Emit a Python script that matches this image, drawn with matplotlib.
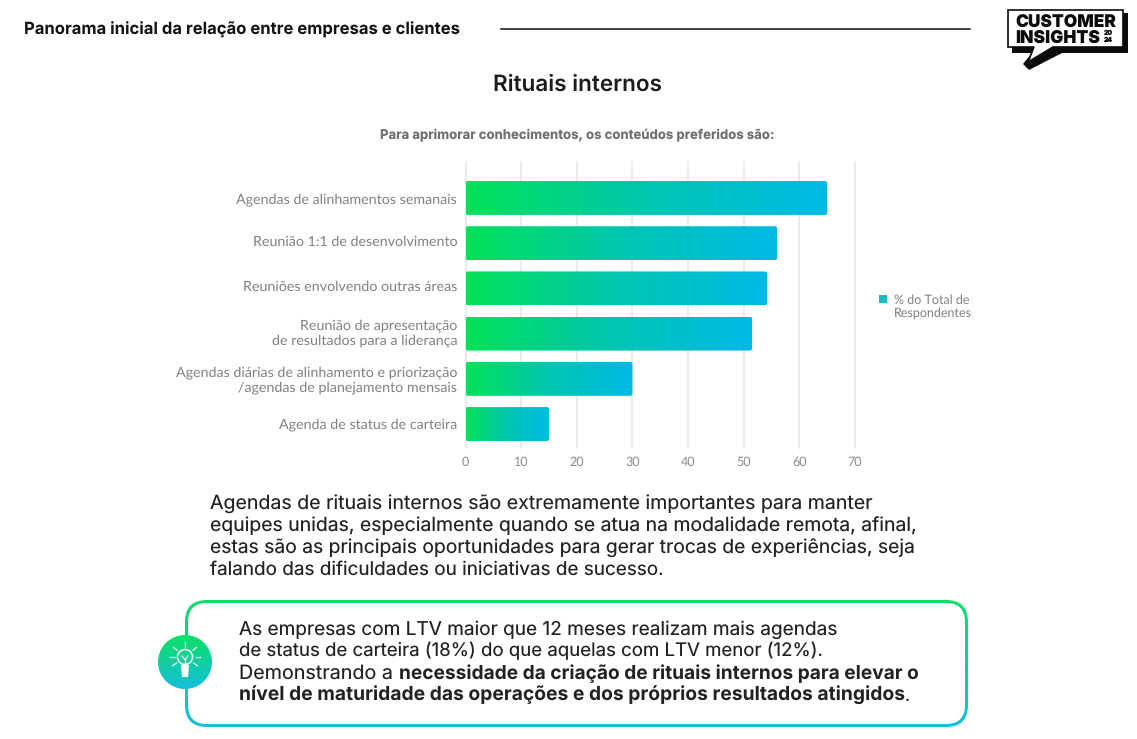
import numpy as np
import matplotlib
matplotlib.use("Agg")
import matplotlib.pyplot as plt
from matplotlib.colors import LinearSegmentedColormap
from matplotlib.patches import FancyBboxPatch, Circle, Polygon, Rectangle
from matplotlib.lines import Line2D
from matplotlib.transforms import ScaledTranslation

categories = [
    "Agendas de alinhamentos semanais",
    "Reunião 1:1 de desenvolvimento",
    "Reuniões envolvendo outras áreas",
    "Reunião de apresentação\nde resultados para a liderança",
    "Agendas diárias de alinhamento e priorização\n/agendas de planejamento mensais",
    "Agenda de status de carteira",
]
values = [65, 56, 54.2, 51.5, 30, 15]
xticks = [0, 10, 20, 30, 40, 50, 60, 70]
legend_lines = ["% do Total de", "Respondentes"]

W, H = 1137, 739
BODY = "Inter"
LABEL = "Lato"
plt.rcParams["text.hinting"] = "no_hinting"
fig = plt.figure(figsize=(W / 100, H / 100), dpi=100, facecolor="white")
renderer = fig.canvas.get_renderer()

bar_cmap = LinearSegmentedColormap.from_list("g", ["#03e158", "#00c6b0", "#00b9e6"])
v_cmap = LinearSegmentedColormap.from_list("v", ["#08e064", "#12cfa0", "#14bfdc"])

# ---------- chart ----------
L, R, T, B = 465.5, 855, 162, 448
ax = fig.add_axes([L / W, 1 - B / H, (R - L) / W, (B - T) / H])
y = np.arange(len(values))
bars = ax.barh(y, values, height=0.75, color="none", zorder=3)
ax.set_xlim(0, 70)
ylim = (5.53, -0.796)
ax.set_ylim(*ylim)
aspect = ((R - L) / 70) / ((B - T) / (ylim[0] - ylim[1]))
for b in bars:
    x0, y0, w, h = b.get_x(), b.get_y(), b.get_width(), b.get_height()
    img = ax.imshow(np.linspace(0, 1, 200).reshape(1, -1), cmap=bar_cmap, aspect="auto",
                    extent=(x0, x0 + w, y0 + h, y0), zorder=3)
    clip = FancyBboxPatch((x0, y0), w, h, boxstyle="round,pad=0,rounding_size=0.4",
                          mutation_aspect=aspect, transform=ax.transData,
                          facecolor="none", edgecolor="none")
    ax.add_patch(clip)
    img.set_clip_path(clip)
ax.set_xlim(0, 70)
ax.set_ylim(*ylim)
ax.set_xticks(xticks)
ax.set_yticks(y)
ax.set_yticklabels(categories, fontfamily=LABEL, fontsize=10.3, color="#808080", linespacing=1.2)
ax.set_xticklabels([str(v) for v in xticks], fontfamily=LABEL, fontsize=9, color="#8a8a8a")
ax.tick_params(axis="both", length=0)
ax.tick_params(axis="y", pad=6)
ax.tick_params(axis="x", pad=6)
nudges = [0, 2, 3, 3, 1.5, 1]
for t, dy in zip(ax.get_yticklabels(), nudges):
    t.set_multialignment("right")
    t.set_transform(t.get_transform() + ScaledTranslation(0, dy / 100, fig.dpi_scale_trans))
ax.grid(axis="x", color="#e4e4e4", linewidth=1.1)
for g in ax.get_xgridlines():
    g.set_clip_on(False)
ax.set_axisbelow(True)
for s in ax.spines.values():
    s.set_visible(False)

handle = Rectangle((0, 0), 1, 1, facecolor="#13bdb8", edgecolor="none")
blank = Rectangle((0, 0), 1, 1, facecolor="none", edgecolor="none")
leg = fig.legend([handle, blank], legend_lines, loc="upper left",
                 bbox_to_anchor=(876.5 / W, 1 - 291.5 / H), frameon=False,
                 prop={"family": LABEL, "size": 9}, labelcolor="#808080",
                 handlelength=0.65, handleheight=0.65, handletextpad=0.55,
                 borderpad=0.2, borderaxespad=0, labelspacing=0.12)

# ---------- page overlay in pixel coordinates ----------
pg = fig.add_axes([0, 0, 1, 1], zorder=-1)
pg.set_xlim(0, W)
pg.set_ylim(H, 0)
pg.axis("off")
top = fig.add_axes([0, 0, 1, 1], zorder=5)
top.set_xlim(0, W)
top.set_ylim(H, 0)
top.axis("off")
top.patch.set_alpha(0)


def fit(a, s, x, base, width, **kw):
    t = a.text(x, base, s, va="baseline", ha="left", fontsize=40, **kw)
    ext = t.get_window_extent(renderer)
    t.set_fontsize(40 * width / ext.width)
    return t


fit(top, "Panorama inicial da relação entre empresas e clientes", 24, 35, 436,
    family=BODY, fontweight="bold", color="#141414")
top.add_line(Line2D([501, 970], [29, 29], color="#111111", lw=1.1))
fit(top, "Rituais internos", 493, 91, 169, family=BODY, fontweight="semibold", color="#1c1c1c")
fit(top, "Para aprimorar conhecimentos, os conteúdos preferidos são:", 380, 139, 395,
    family=BODY, fontweight="bold", color="#6f6f6f")

para = [
    ("Agendas de rituais internos são extremamente importantes para manter", 509, 663),
    ("equipes unidas, especialmente quando se atua na modalidade remota, afinal,", 531, 707),
    ("estas são as principais oportunidades para gerar trocas de experiências, seja", 553, 705),
    ("falando das dificuldades ou iniciativas de sucesso.", 575, 454),
]
for s, base, w in para:
    fit(top, s, 210, base, w, family=BODY, color="#222222")

# callout box
bx, by, bw, bh = 185, 600, 783, 127
outer = FancyBboxPatch((bx, by), bw, bh, boxstyle="round,pad=0,rounding_size=22",
                       transform=pg.transData, facecolor="none", edgecolor="none")
pg.add_patch(outer)
grad = pg.imshow(np.linspace(0, 1, 200).reshape(-1, 1), cmap=v_cmap, aspect="auto",
                 extent=(bx, bx + bw, by + bh, by), zorder=1)
grad.set_clip_path(outer)
inner = FancyBboxPatch((bx + 3, by + 3), bw - 6, bh - 6, boxstyle="round,pad=0,rounding_size=19",
                       facecolor="white", edgecolor="none", zorder=2)
pg.add_patch(inner)
pg.set_xlim(0, W)
pg.set_ylim(H, 0)

fit(top, "As empresas com LTV maior que 12 meses realizam mais agendas", 239, 635, 599,
    family=BODY, color="#222222")
fit(top, "de status de carteira (18%) do que aquelas com LTV menor (12%).", 239, 656, 584,
    family=BODY, color="#222222")
fit(top, "Demonstrando a", 239, 679, 154, family=BODY, color="#222222")
fit(top, "necessidade da criação de rituais internos para elevar o", 399, 679, 520,
    family=BODY, fontweight="bold", color="#222222")
fit(top, "nível de maturidade das operações e dos próprios resultados atingidos", 239, 701, 666,
    family=BODY, fontweight="bold", color="#222222")
top.text(905, 701, ".", family=BODY, fontsize=12.5, color="#222222", va="baseline")

# lightbulb badge
cx, cy, r = 185, 662, 27
circ = Circle((cx, cy), r, facecolor="none", edgecolor="none", transform=top.transData)
top.add_patch(circ)
cimg = top.imshow(np.linspace(0, 1, 100).reshape(-1, 1), cmap=v_cmap, aspect="auto",
                  extent=(cx - r, cx + r, cy + r, cy - r), zorder=2)
cimg.set_clip_path(circ)
top.set_xlim(0, W)
top.set_ylim(H, 0)
hy = cy - 5
top.add_patch(Circle((cx, hy), 7.5, facecolor="none", edgecolor="white", lw=1.1, zorder=3))
top.add_patch(Polygon([(cx - 4, hy + 8), (cx + 4, hy + 8), (cx + 3, hy + 20), (cx - 3, hy + 20)],
                      closed=True, facecolor="white", edgecolor="none", zorder=3))
top.add_line(Line2D([cx - 3, cx, cx + 3], [hy - 1, hy + 3, hy - 1], color="white", lw=0.9, zorder=3))
top.add_line(Line2D([cx, cx], [hy + 3, hy + 8], color="white", lw=0.9, zorder=3))
for ang in np.deg2rad([-180, -140, -90, -40, 0, 35, 145]):
    top.add_line(Line2D([cx + 10.5 * np.cos(ang), cx + 15 * np.cos(ang)],
                        [hy + 10.5 * np.sin(ang), hy + 15 * np.sin(ang)],
                        color="white", lw=0.9, zorder=3))

# logo
top.add_patch(Polygon([(1012, 13), (1128, 13), (1128, 53), (1062, 53), (1029, 70), (1023, 64),
                       (1032, 53), (1012, 53)], closed=True, facecolor="#0c0c0c", edgecolor="none", zorder=3))
top.add_patch(Polygon([(1008, 10), (1123, 10), (1123, 47), (1053, 47), (1028, 62), (1034, 47), (1008, 47)],
                      closed=True, facecolor="white", edgecolor="#0c0c0c", lw=1.2, zorder=4))
fit(top, "CUSTOMER", 1015, 27.5, 101, family="Inter", fontweight="black", color="#0c0c0c", zorder=5)
fit(top, "INSIGHTS", 1015, 42.5, 85, family="Inter", fontweight="black", color="#0c0c0c", zorder=5)
top.text(1108.5, 33.5, "20", family="Inter", fontweight="black", fontsize=4.8, color="#0c0c0c",
         ha="center", va="center", zorder=5)
top.text(1108.5, 40, "24", family="Inter", fontweight="black", fontsize=4.8, color="#0c0c0c",
         ha="center", va="center", zorder=5)

fig.savefig("out.png", dpi=100, facecolor="white")
